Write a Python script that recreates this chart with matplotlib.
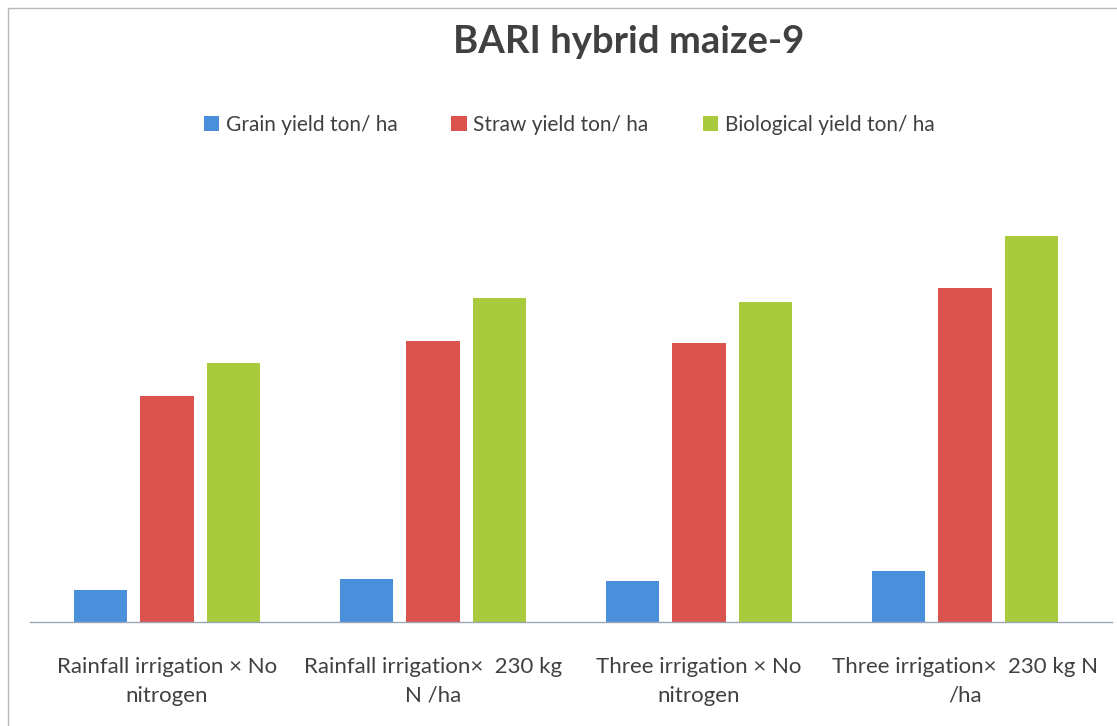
import matplotlib
matplotlib.use("Agg")
import matplotlib.pyplot as plt
from matplotlib.patches import Rectangle, Patch
import numpy as np

categories = ["Rainfall irrigation × No\nnitrogen",
              "Rainfall irrigation×  230 kg\nN /ha",
              "Three irrigation × No\nnitrogen",
              "Three irrigation×  230 kg N\n/ha"]
series_names = ["Grain yield ton/ ha", "Straw yield ton/ ha", "Biological yield ton/ ha"]
grain = [1.6, 2.15, 2.05, 2.55]
straw = [11.3, 14.05, 13.95, 16.7]
biological = [12.95, 16.2, 16.0, 19.3]
colors = ["#4A8FDC", "#DC524C", "#A8CA3C"]

plt.rcParams['font.family'] = ['Lato', 'DejaVu Sans']
W, H = 1117, 726
fig = plt.figure(figsize=(W/100, H/100), dpi=100)

# outer border
fig.patches.append(Rectangle((8/W, -0.1), 1.2, (H-8)/H + 0.1, transform=fig.transFigure,
                             fill=False, edgecolor="#b8b8b8", linewidth=1.0))

ax_left, ax_right = 30/W, 1112/W
ax_bottom, ax_top = 1-622/H, 1-200/H
ax = fig.add_axes([ax_left, ax_bottom, ax_right-ax_left, ax_top-ax_bottom])

x = np.arange(len(categories))
width = 0.2
step = 0.25
for i, (vals, c, name) in enumerate(zip([grain, straw, biological], colors, series_names)):
    ax.bar(x + (i-1)*step, vals, width=width, color=c, label=name)

ax.set_xlim(-0.515, 3.553)
ax.set_ylim(0, 21.1)
for s in ["top", "right", "left"]:
    ax.spines[s].set_visible(False)
ax.spines["bottom"].set_color("#9aa5b5")
ax.spines["bottom"].set_linewidth(1.0)
ax.set_yticks([])
ax.set_xticks(x)
ax.set_xticklabels(categories, fontsize=16, color="#404040", linespacing=1.55)
ax.tick_params(axis="x", length=0, pad=25)

fig.text(629/W, 1-42/H, "BARI hybrid maize-9", ha="center", va="center",
         fontsize=27.5, fontweight="bold", color="#404040")

handles = [Patch(facecolor=c, edgecolor="none") for c in colors]
fig.legend(handles, series_names, loc="center", bbox_to_anchor=(569/W, 1-125/H),
           ncol=3, frameon=False, fontsize=15, handlelength=0.75, handleheight=0.75,
           handletextpad=0.3, columnspacing=2.6, labelcolor="#404040")

fig.savefig("out.png", dpi=100)
